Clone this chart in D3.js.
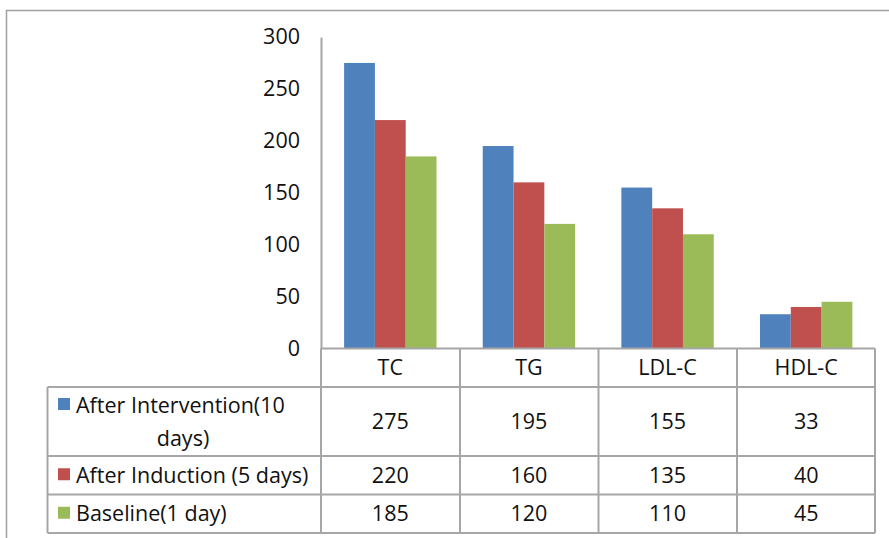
<!DOCTYPE html>
<html><head><meta charset="utf-8">
<script src="https://cdn.jsdelivr.net/npm/d3@7"></script>
<style>body{margin:0;background:#fff}svg{display:block}</style>
</head><body>
<script>
const categories = ["TC", "TG", "LDL-C", "HDL-C"];
const seriesNames = ["After Intervention(10 days)", "After Induction (5 days)", "Baseline(1 day)"];
const seriesLines = [["After Intervention(10", "days)"], ["After Induction (5 days)"], ["Baseline(1 day)"]];
const afterIntervention = [275, 195, 155, 33];
const afterInduction = [220, 160, 135, 40];
const baseline = [185, 120, 110, 45];
const yTicks = [0, 50, 100, 150, 200, 250, 300];
const colors = ["#4F81BD", "#C0504D", "#9BBB59"];

const series = [afterIntervention, afterInduction, baseline];
const W = 889, H = 538;
const FONT = "'Open Sans', 'Noto Sans', sans-serif";
const fs = 21.5;
const txt = "#111";
const grey = "#a6a6a6";

const svg = d3.select("body").append("svg").attr("width", W).attr("height", H)
  .style("font-family", FONT);

// outer frame
svg.append("path").attr("d", "M6.5,538 L6.5,10.5 L889,10.5").attr("fill", "none")
  .attr("stroke", "#a0a0a0").attr("stroke-width", 1.5);

const x0 = d3.scaleBand().domain(categories).range([321, 875.5]).paddingInner(0).paddingOuter(0);
const x1 = d3.scaleBand().domain(d3.range(3)).range([0, x0.bandwidth()]).paddingInner(0).paddingOuter(0.75);
const y = d3.scaleLinear().domain([0, 300]).range([348.5, 37]);

// y axis
const yAxis = svg.append("g").attr("transform", "translate(321,0)")
  .call(d3.axisLeft(y).tickValues(yTicks).tickSize(0).tickPadding(21));
yAxis.select(".domain").attr("stroke", grey).attr("stroke-width", 2);
yAxis.selectAll("text").attr("font-family", FONT).attr("font-size", fs).attr("fill", txt);

// bars
categories.forEach((c, ci) => {
  series.forEach((s, si) => {
    svg.append("rect")
      .attr("x", x0(c) + x1(si))
      .attr("y", y(s[ci]))
      .attr("width", x1.bandwidth())
      .attr("height", y(0) - y(s[ci]))
      .attr("fill", colors[si]);
  });
});

// table
const rowY = [348.5, 387, 456, 494.5, 533];
const colX = [47.5, 321, 460, 598.5, 737, 875];
const g = svg.append("g").attr("stroke", grey).attr("stroke-width", 2).attr("fill", "none");
g.append("line").attr("x1", 321).attr("x2", colX[5]).attr("y1", rowY[0]).attr("y2", rowY[0]);
for (let i = 1; i < rowY.length; i++) {
  g.append("line").attr("x1", colX[0]).attr("x2", colX[5]).attr("y1", rowY[i]).attr("y2", rowY[i]);
}
g.append("line").attr("x1", colX[0]).attr("x2", colX[0]).attr("y1", rowY[1]).attr("y2", rowY[4]);
for (let j = 1; j < colX.length; j++) {
  g.append("line").attr("x1", colX[j]).attr("x2", colX[j]).attr("y1", rowY[0]).attr("y2", rowY[4]);
}

// header category labels
categories.forEach(c => {
  svg.append("text").attr("x", x0(c) + x0.bandwidth() / 2).attr("y", (rowY[0] + rowY[1]) / 2)
    .attr("text-anchor", "middle").attr("dy", "0.35em")
    .attr("font-size", fs).attr("fill", txt).text(c);
});

// rows
series.forEach((s, si) => {
  const top = rowY[si + 1], bot = rowY[si + 2], mid = (top + bot) / 2;
  const lines = seriesLines[si];
  const lh = 33;
  lines.forEach((ln, li) => {
    const ly = mid + (li - (lines.length - 1) / 2) * lh;
    if (li === 0) {
      svg.append("rect").attr("x", 58).attr("y", ly - 7).attr("width", 12).attr("height", 12).attr("fill", colors[si]);
      svg.append("text").attr("x", 76).attr("y", ly).attr("dy", "0.35em")
        .attr("font-size", fs).attr("fill", txt).text(ln);
    } else {
      svg.append("text").attr("x", 183).attr("y", ly).attr("dy", "0.35em").attr("text-anchor", "middle")
        .attr("font-size", fs).attr("fill", txt).text(ln);
    }
  });
  categories.forEach((c, ci) => {
    svg.append("text").attr("x", x0(c) + x0.bandwidth() / 2).attr("y", mid).attr("dy", "0.35em")
      .attr("text-anchor", "middle").attr("font-size", fs).attr("fill", txt).text(s[ci]);
  });
});
</script>
</body></html>
